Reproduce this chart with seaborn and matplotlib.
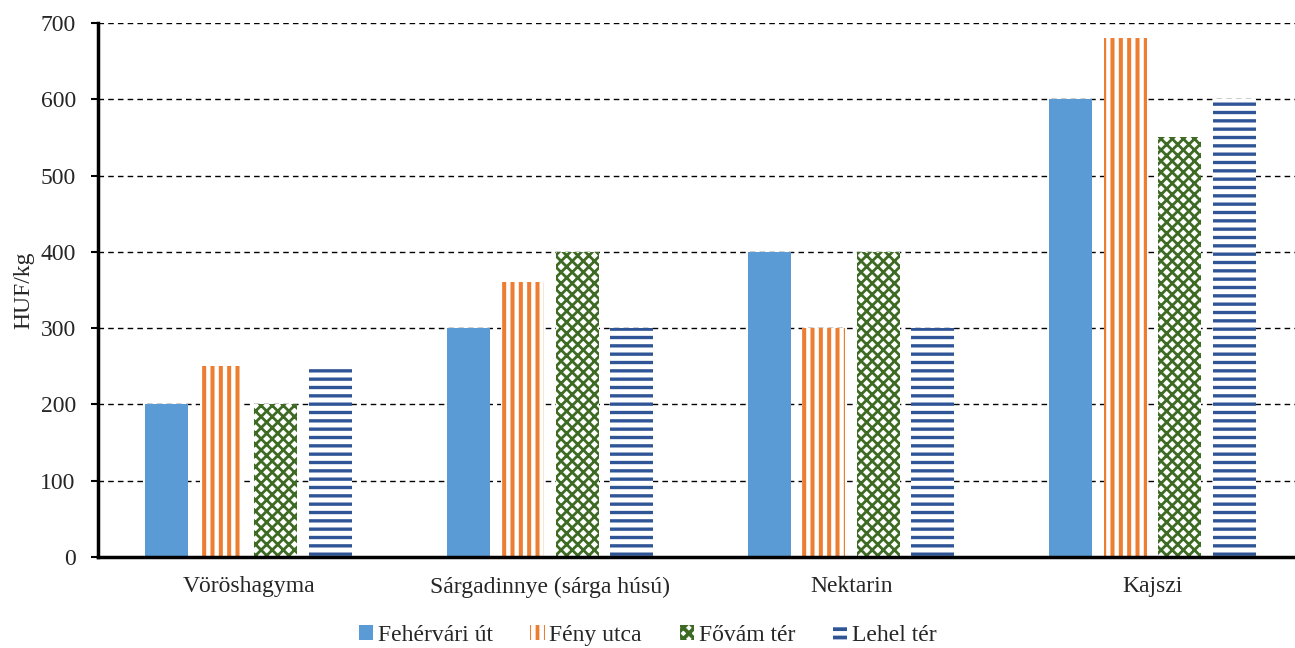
import matplotlib
matplotlib.use("Agg")
import matplotlib.pyplot as plt
import seaborn as sns
import pandas as pd

categories = ["Vöröshagyma", "Sárgadinnye (sárga húsú)", "Nektarin", "Kajszi"]
markets = ["Fehérvári út", "Fény utca", "Fővám tér", "Lehel tér"]
fehervari = [200, 300, 400, 600]
feny = [250, 360, 300, 680]
fovam = [200, 400, 400, 550]
lehel = [250, 300, 300, 600]
yticks = [0, 100, 200, 300, 400, 500, 600, 700]
ylabel = "HUF/kg"

colors = ["#5B9BD5", "#ED7D31", "#3E6B23", "#2F5597"]
hatches = [None, "||", "xxx", "--"]
FS = 17

rows = []
for m, vals in zip(markets, [fehervari, feny, fovam, lehel]):
    for c, v in zip(categories, vals):
        rows.append({"category": c, "market": m, "value": v})
df = pd.DataFrame(rows)

sns.set_style("white")
plt.rcParams["font.family"] = ["Liberation Serif", "DejaVu Serif"]
plt.rcParams["hatch.linewidth"] = 2.7

fig = plt.figure(figsize=(12.95, 6.48), dpi=100)
ax = fig.add_axes([98 / 1295, 1 - 557 / 648, (1303 - 98) / 1295, (557 - 23) / 648])

sns.barplot(data=df, x="category", y="value", hue="market", order=categories,
            hue_order=markets, palette=colors, width=0.724, gap=0.21,
            ax=ax, legend=False)

hlw = [None, 2.9, 2.0, 2.4]
for cont, col, h, lw in zip(ax.containers, colors, hatches, hlw):
    for p in cont.patches:
        if h is None:
            p.set_facecolor(col)
            p.set_edgecolor(col)
            p.set_linewidth(0)
        else:
            p.set_facecolor("white")
            p.set_edgecolor(col)
            p.set_hatch(h)
            p.set_linewidth(0)
            if hasattr(p, "set_hatch_linewidth"):
                p.set_hatch_linewidth(lw)

ax.set_xlim(-0.5, 3.5)
ax.set_ylim(0, 700)
ax.set_yticks(yticks)
ax.set_yticklabels([str(t) for t in yticks], fontsize=FS)
ax.set_xticks(range(len(categories)))
ax.set_xticklabels(categories, fontsize=FS)
ax.tick_params(axis="x", which="major", length=0, pad=14)
ax.set_xticks([-0.5, 0.5, 1.5, 2.5, 3.5], minor=True)
ax.tick_params(axis="x", which="minor", length=6, width=1.5, direction="out", color="black")
ax.tick_params(axis="y", length=5, width=1.5, direction="out", color="black", left=True, pad=11)

ax.set_axisbelow(True)
ax.yaxis.grid(True, linestyle=(0, (4, 3)), color="black", linewidth=1)
ax.xaxis.grid(False)
for s in ["top", "right"]:
    ax.spines[s].set_visible(False)
for s in ["left", "bottom"]:
    ax.spines[s].set_color("black")
    ax.spines[s].set_linewidth(2.5)

ax.set_xlabel("")
ax.set_ylabel(ylabel, fontsize=FS, labelpad=4)

leg = fig.legend(ax.containers, markets, loc="lower center", bbox_to_anchor=(0.5, -0.03),
                 ncol=4, frameon=False, fontsize=FS, handlelength=0.6, handleheight=0.6,
                 handletextpad=0.2, columnspacing=1.6)

fig.savefig("out.png", dpi=100)
